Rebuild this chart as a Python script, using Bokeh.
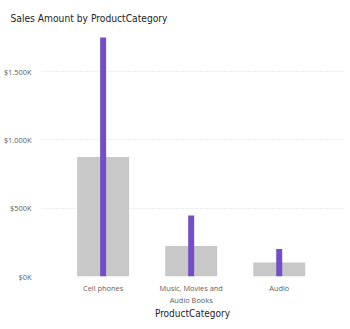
from bokeh.plotting import figure
from bokeh.models import ColumnDataSource, FixedTicker, Range1d
from bokeh.embed import file_html
from bokeh.resources import INLINE

categories = ["Cell phones", "Music, Movies and\nAudio Books", "Audio"]
sales_gray = [875000, 224000, 102000]
sales_purple = [1750000, 446000, 201000]
y_ticks = [0, 500000, 1000000, 1500000]
y_tick_labels = ["$0K", "$500K", "$1.000K", "$1.500K"]

xs = list(range(len(categories)))
src = ColumnDataSource(dict(x=xs, gray=sales_gray, purple=sales_purple))

p = figure(width=350, height=329, output_backend="svg", toolbar_location=None,
           x_range=Range1d(-0.70, 2.73), y_range=Range1d(0, 1780000),
           min_border_left=39, min_border_right=7, min_border_top=0,
           min_border_bottom=53, outline_line_color=None)

cond = "'DejaVu Sans Condensed', Roboto, sans-serif"

p.title.text = "Sales Amount by ProductCategory"
p.title.text_font = cond
p.title.text_font_size = "10.2px"
p.title.text_font_style = "normal"
p.title.text_color = "#252423"
p.title.offset = -31
p.title.standoff = 20

p.vbar(x="x", top="gray", width=0.59, source=src, fill_color="#C8C8C8", line_color=None)
p.vbar(x="x", top="purple", width=0.068, source=src, fill_color="#744EC2", line_color=None)

p.xaxis.ticker = FixedTicker(ticks=xs)
p.xaxis.major_label_overrides = {i: c for i, c in zip(xs, categories)}
p.xaxis.axis_label = "ProductCategory"
p.xaxis.axis_label_text_font = cond
p.xaxis.axis_label_text_font_size = "10px"
p.xaxis.axis_label_text_font_style = "normal"
p.xaxis.axis_label_text_color = "#252423"
p.xaxis.axis_label_standoff = 0
p.xaxis.major_label_text_font = "Open Sans"
p.xaxis.major_label_text_font_size = "7.4px"
p.xaxis.major_label_text_color = "#605E5C"
p.xaxis.major_label_standoff = 0
p.xaxis.axis_line_color = None
p.xaxis.major_tick_line_color = None
p.xaxis.minor_tick_line_color = None

p.yaxis.ticker = FixedTicker(ticks=y_ticks)
p.yaxis.major_label_overrides = {t: l for t, l in zip(y_ticks, y_tick_labels)}
p.yaxis.major_label_text_font = "Open Sans"
p.yaxis.major_label_text_font_size = "7.4px"
p.yaxis.major_label_text_color = "#605E5C"
p.yaxis.major_label_standoff = 4
p.yaxis.axis_line_color = None
p.yaxis.major_tick_line_color = None
p.yaxis.minor_tick_line_color = None

p.xgrid.grid_line_color = None
p.ygrid.grid_line_color = "#D8D8D8"
p.ygrid.grid_line_dash = "1 2"
p.ygrid.grid_line_width = 1

open("out.html", "w").write(file_html(p, INLINE))
